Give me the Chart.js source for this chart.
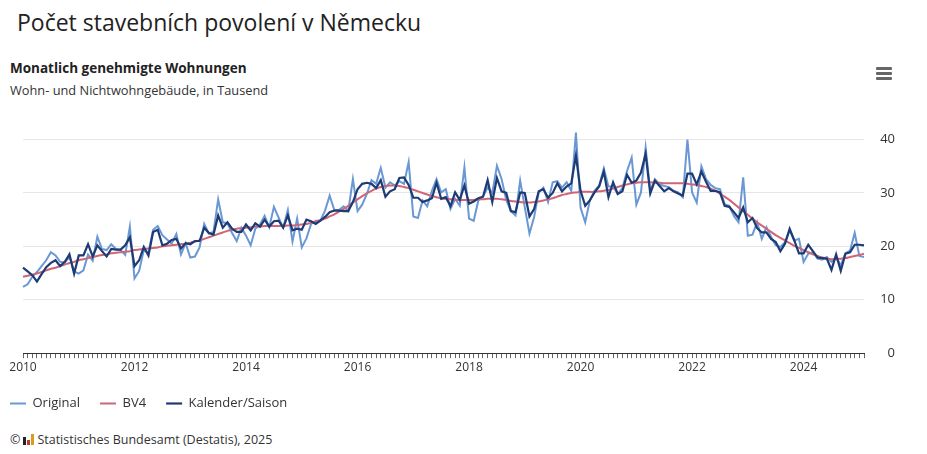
<!DOCTYPE html>
<html>
<head>
<meta charset="utf-8">
<script src="https://cdn.jsdelivr.net/npm/chart.js@4.4.1/dist/chart.umd.min.js"></script>
<style>
  html, body { margin: 0; padding: 0; background: #fff; }
  body { width: 927px; height: 454px; position: relative; overflow: hidden; font-family: 'Open Sans', sans-serif; color: #222; }
  #title { position: absolute; left: 17px; top: 6px; font-size: 23px; color: #222; white-space: nowrap; }
  #head1 { position: absolute; left: 10px; top: 59px; font-size: 13.5px; line-height: 18px; font-weight: bold; color: #222; white-space: nowrap; }
  #head2 { position: absolute; left: 10px; top: 81px; font-size: 12.8px; line-height: 18px; color: #333; white-space: nowrap; }
  #menu { position: absolute; left: 876px; top: 67px; width: 16px; }
  #menu span { display: block; height: 3px; background: #666; margin-bottom: 2px; border-radius: 1px; }
  #wrap { position: absolute; left: 0; top: 90px; width: 927px; height: 330px; }
  #credits { position: absolute; left: 10px; top: 431px; font-size: 12.5px; color: #333; white-space: nowrap; }
  #logo { display: inline-block; width: 11px; height: 11px; position: relative; vertical-align: -1px; margin: 0 3px 0 3px; }
  #logo i { position: absolute; bottom: 0; width: 3px; }
</style>
</head>
<body>
<div id="title">Počet stavebních povolení v Německu</div>
<div id="head1">Monatlich genehmigte Wohnungen</div>
<div id="head2">Wohn- und Nichtwohngebäude, in Tausend</div>
<div id="menu"><span></span><span></span><span></span></div>
<div id="wrap"><canvas id="chart"></canvas></div>
<div id="credits">©<span id="logo"><i style="left:0;height:8px;background:#222"></i><i style="left:4px;height:5px;background:#c0392b"></i><i style="left:8px;height:11px;background:#d4a017"></i></span>Statistisches Bundesamt (Destatis), 2025</div>
<script>
// Monate Jan 2010 bis Feb 2025
const years = ['2010', '2011', '2012', '2013', '2014', '2015', '2016', '2017', '2018', '2019', '2020', '2021', '2022', '2023', '2024', '2025'];
const months = ['01', '02', '03', '04', '05', '06', '07', '08', '09', '10', '11', '12'];
const tickYears = ['2010', '2012', '2014', '2016', '2018', '2020', '2022', '2024'];
const yTicks = [0, 10, 20, 30, 40];

const original = [
  12.4, 12.9, 14.3, 15.2, 16.3, 17.4, 18.9, 18.3, 17.1, 17.0, 18.0, 15.3,
  14.9, 15.5, 18.5, 17.3, 21.8, 19.5, 19.3, 20.4, 19.5, 19.3, 18.4, 23.7,
  14.0, 15.4, 19.3, 18.8, 23.1, 23.8, 22.1, 21.3, 20.5, 22.3, 18.5, 20.6,
  17.9, 18.1, 19.8, 24.2, 22.4, 22.7, 28.8, 24.5, 24.3, 22.5, 21.0, 23.5,
  22.0, 20.2, 23.3, 24.1, 25.7, 23.6, 27.4, 25.4, 23.5, 26.8, 20.9, 25.2,
  19.8, 21.5, 24.2, 24.8, 24.8, 26.7, 29.5, 26.8, 26.8, 27.5, 26.6, 32.6,
  26.6, 27.8, 29.8, 32.4, 31.7, 34.7, 31.0, 32.0, 31.4, 32.2, 31.7, 35.8,
  25.6, 25.3, 28.6, 27.5, 30.4, 32.6, 30.1, 30.7, 27.0, 28.9, 27.6, 34.8,
  25.2, 24.8, 28.6, 29.3, 31.0, 30.0, 35.1, 32.6, 28.7, 26.6, 25.8, 32.3,
  27.3, 22.4, 25.5, 30.1, 31.0, 28.3, 32.0, 32.2, 31.0, 32.0, 30.4, 41.3,
  27.2, 24.5, 28.6, 30.4, 31.4, 34.6, 31.2, 31.2, 29.8, 30.9, 34.1, 36.6,
  27.8, 30.1, 38.5, 30.4, 32.6, 31.6, 31.3, 31.1, 30.4, 30.1, 29.2, 40.0,
  30.1, 28.2, 35.0, 32.6, 31.5, 30.9, 30.7, 27.9, 27.6, 25.7, 24.5, 32.9,
  22.0, 22.2, 24.5, 21.4, 23.6, 21.8, 20.2, 19.9, 20.8, 23.0, 21.1, 21.4,
  17.1, 18.6, 18.9, 17.7, 17.5, 18.0, 17.1, 18.0, 16.4, 18.7, 19.2, 22.5,
  18.2, 18.0
];

const bv4 = [
  14.3, 14.5, 14.7, 14.9, 15.2, 15.5, 15.8, 16.0, 16.3, 16.6, 16.9, 17.1,
  17.4, 17.6, 17.8, 18.0, 18.2, 18.4, 18.5, 18.7, 18.8, 18.9, 19.0, 19.1,
  19.3, 19.4, 19.5, 19.6, 19.7, 19.8, 20.0, 20.1, 20.2, 20.3, 20.4, 20.5,
  20.7, 20.9, 21.1, 21.4, 21.7, 22.0, 22.3, 22.6, 22.9, 23.1, 23.3, 23.4,
  23.5, 23.6, 23.7, 23.7, 23.8, 23.8, 23.8, 23.8, 23.8, 23.9, 23.9, 24.0,
  24.1, 24.2, 24.4, 24.6, 24.9, 25.2, 25.6, 26.0, 26.5, 27.0, 27.6, 28.2,
  28.8, 29.4, 29.9, 30.4, 30.8, 31.1, 31.3, 31.4, 31.4, 31.3, 31.1, 30.9,
  30.6, 30.3, 30.0, 29.7, 29.4, 29.2, 29.0, 28.9, 28.8, 28.7, 28.7, 28.7,
  28.7, 28.7, 28.8, 28.8, 28.9, 28.9, 28.9, 28.8, 28.7, 28.5, 28.4, 28.3,
  28.2, 28.2, 28.3, 28.4, 28.6, 28.8, 29.0, 29.3, 29.6, 29.8, 30.0, 30.1,
  30.2, 30.2, 30.2, 30.2, 30.3, 30.4, 30.6, 30.8, 31.1, 31.4, 31.6, 31.8,
  31.9, 32.0, 32.0, 32.0, 31.9, 31.9, 31.8, 31.8, 31.8, 31.8, 31.8, 31.7,
  31.6, 31.5, 31.3, 31.1, 30.8, 30.4, 29.9, 29.3, 28.7, 28.0, 27.3, 26.6,
  25.9, 25.2, 24.5, 23.9, 23.3, 22.7, 22.1, 21.6, 21.1, 20.6, 20.1, 19.7,
  19.3, 18.9, 18.5, 18.2, 17.9, 17.7, 17.6, 17.6, 17.7, 17.8, 18.0, 18.2,
  18.4, 18.6
];

const kalenderSaison = [
  16.0, 15.3, 14.6, 13.4, 14.8, 16.1, 16.9, 17.4, 16.3, 17.1, 18.5, 14.9,
  18.3, 18.3, 20.4, 18.1, 20.2, 19.1, 18.1, 19.5, 19.4, 19.4, 20.2, 21.7,
  16.3, 17.4, 19.9, 18.3, 22.7, 23.1, 20.2, 20.5, 21.2, 21.4, 19.6, 20.6,
  20.4, 21.0, 21.0, 23.5, 22.5, 22.2, 25.8, 23.5, 24.5, 23.3, 22.7, 22.7,
  24.1, 23.0, 24.3, 23.7, 25.0, 23.7, 24.7, 24.8, 23.5, 25.8, 23.0, 23.3,
  23.1, 25.0, 24.7, 24.2, 24.8, 25.5, 26.4, 26.7, 26.7, 26.6, 26.6, 28.3,
  30.7, 31.7, 31.9, 31.7, 30.9, 32.4, 29.3, 30.3, 30.7, 32.8, 32.9, 31.5,
  29.1, 29.1, 28.3, 28.6, 29.0, 31.9, 28.9, 29.2, 27.5, 30.1, 28.7, 31.4,
  28.0, 28.4, 29.0, 29.3, 32.4, 28.3, 32.8, 30.3, 30.0, 26.6, 26.4, 30.1,
  30.0, 25.6, 27.0, 30.3, 30.7, 29.1, 30.0, 31.8, 30.3, 31.2, 31.8, 37.0,
  30.4, 27.6, 28.6, 30.1, 31.2, 34.0, 29.2, 32.0, 29.8, 30.3, 33.4, 31.9,
  32.3, 33.8, 37.3, 29.9, 32.3, 31.3, 30.3, 30.9, 30.3, 29.9, 29.5, 33.6,
  33.6, 31.6, 34.0, 32.1, 30.4, 30.4, 30.1, 27.6, 27.4, 26.4, 25.3, 27.3,
  24.5, 25.3, 23.4, 22.6, 22.6, 21.4, 20.8, 19.1, 20.5, 23.3, 21.1, 18.7,
  18.7, 20.3, 19.1, 17.9, 17.8, 17.7, 15.6, 18.5, 15.4, 18.6, 18.9, 20.3,
  20.3, 20.2
];

const labels = [];
years.forEach(y => months.forEach(m => labels.push(y + '-' + m)));
labels.length = original.length;

const textColor = '#333333';

new Chart(document.getElementById('chart'), {
  type: 'line',
  data: {
    labels: labels,
    datasets: [
      {
        label: 'Original',
        data: original,
        borderColor: '#6a98d4',
        backgroundColor: '#6a98d4',
        borderWidth: 2,
        pointRadius: 0,
        tension: 0,
        order: 3
      },
      {
        label: 'BV4',
        data: bv4,
        borderColor: '#cf6676',
        backgroundColor: '#cf6676',
        borderWidth: 2,
        pointRadius: 0,
        tension: 0.4,
        order: 2
      },
      {
        label: 'Kalender/Saison',
        data: kalenderSaison,
        borderColor: '#1d3b74',
        backgroundColor: '#1d3b74',
        borderWidth: 2.2,
        pointRadius: 0,
        tension: 0,
        order: 1
      }
    ]
  },
  options: {
    responsive: true,
    maintainAspectRatio: false,
    animation: false,
    layout: { padding: { left: -10, right: 32, top: 11, bottom: 0 } },
    plugins: {
      legend: {
        position: 'bottom',
        align: 'start',
        labels: {
          sort: (a, b) => a.datasetIndex - b.datasetIndex,
          usePointStyle: true,
          pointStyle: 'line',
          pointStyleWidth: 16,
          padding: 20,
          color: textColor,
          font: { family: 'Open Sans', size: 13 }
        }
      },
      tooltip: { enabled: false }
    },
    scales: {
      x: {
        type: 'category',
        offset: false,
        afterFit: s => { s.paddingLeft = 23; },
        grid: {
          drawOnChartArea: false,
          drawTicks: true,
          tickLength: 5,
          color: '#666'
        },
        border: { display: true, color: '#333', width: 1 },
        ticks: {
          autoSkip: false,
          maxRotation: 0,
          padding: 4,
          color: textColor,
          font: { family: 'Open Sans', size: 12, lineHeight: 0.9 },
          callback: function (value) {
            const lab = this.getLabelForValue(value);
            const y = lab.slice(0, 4);
            return (lab.endsWith('-01') && tickYears.includes(y)) ? y : '';
          }
        }
      },
      y: {
        position: 'right',
        min: 0,
        max: 45,
        afterBuildTicks: s => { s.ticks = yTicks.map(v => ({ value: v })); },
        afterFit: s => { s.width = 31; },
        grid: { color: '#e6e6e6', drawTicks: false },
        border: { display: false },
        ticks: {
          padding: 15,
          crossAlign: 'far',
          color: textColor,
          font: { family: 'Open Sans', size: 13 }
        }
      }
    }
  }
});
</script>
</body>
</html>
